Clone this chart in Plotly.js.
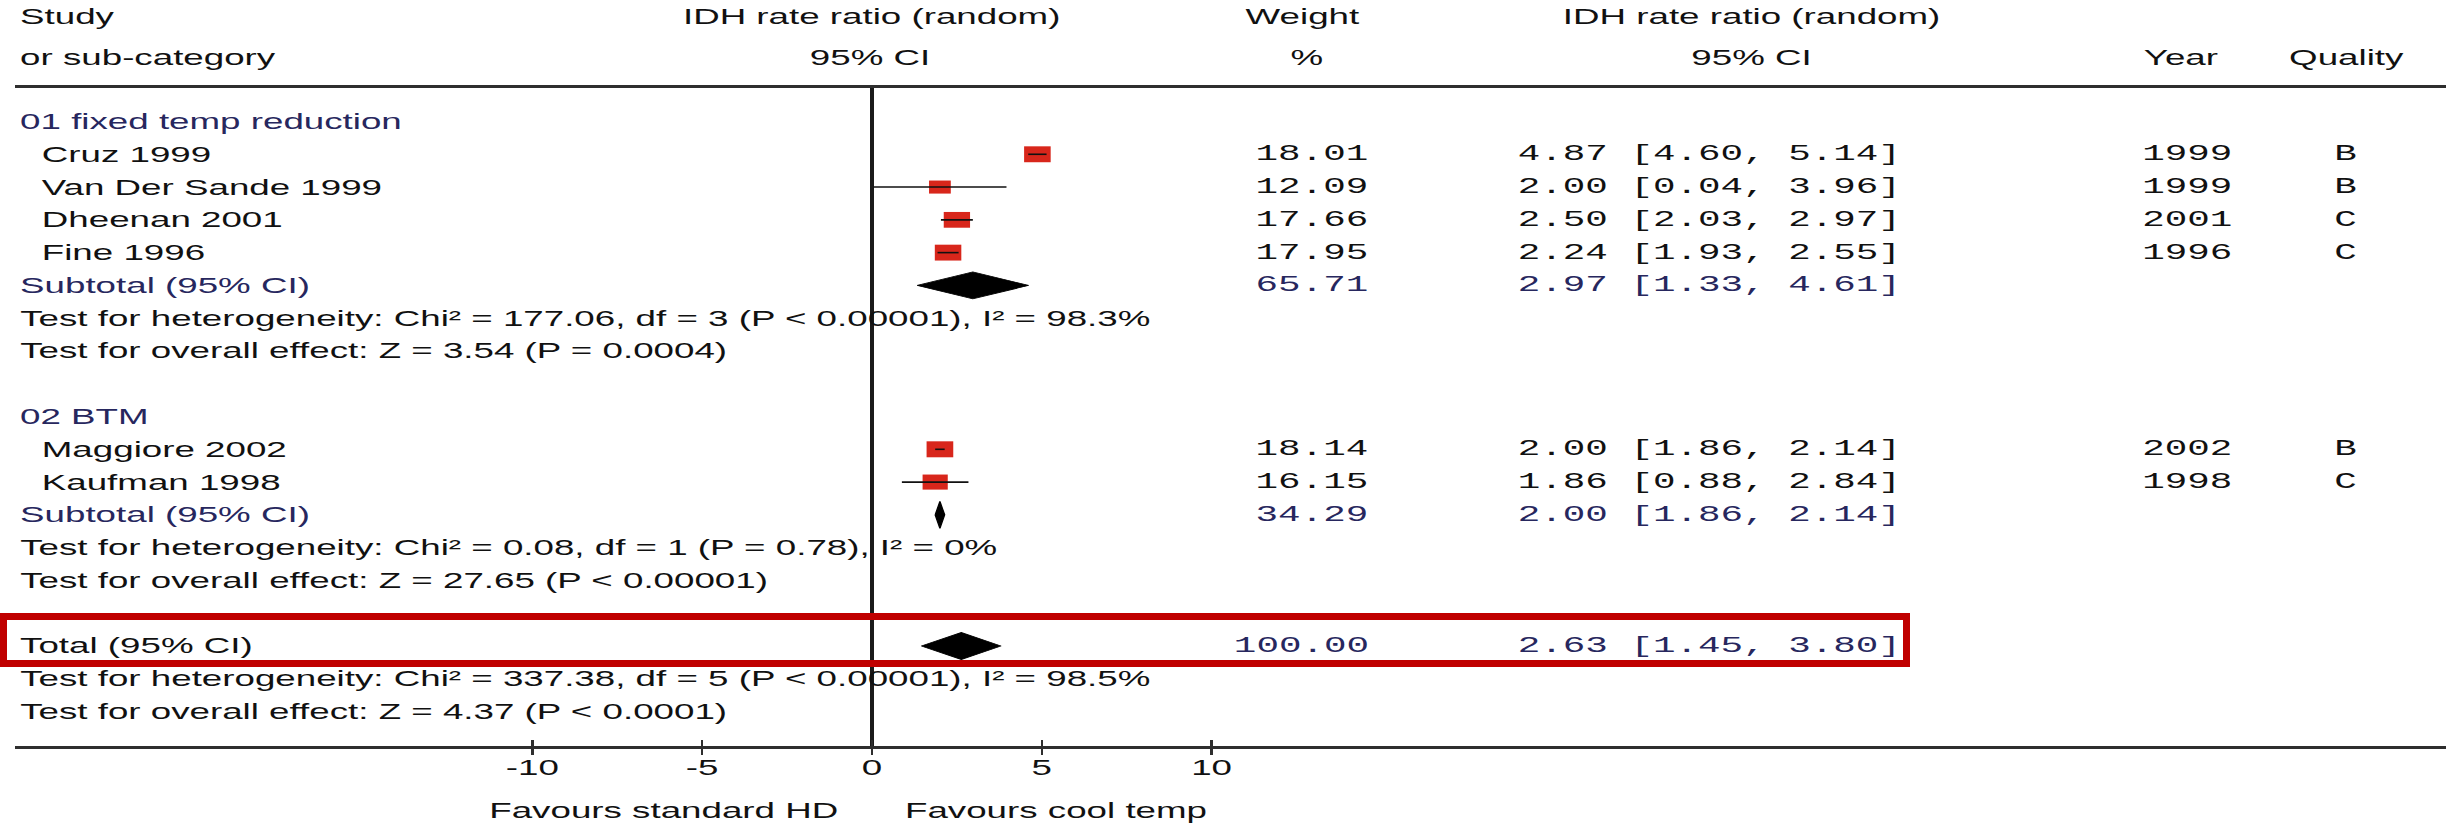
<!DOCTYPE html>
<html>
<head>
<meta charset="utf-8">
<script src="https://cdn.plot.ly/plotly-3.0.1.min.js"></script>
<style>
  html, body { margin: 0; padding: 0; background: #ffffff; overflow: hidden; }
  #chart { width: 1465px; height: 823px; transform-origin: 0 0; }
</style>
</head>
<body>
<div id="chart"></div>
<script>
// ---------------- DATA ----------------
const groupNames = ["01 fixed temp reduction", "02 BTM"];
const studies = ["Cruz 1999", "Van Der Sande 1999", "Dheenan 2001", "Fine 1996", "Maggiore 2002", "Kaufman 1998"];
const studyGroup = [0, 0, 0, 0, 1, 1];
const rateRatio = [4.87, 2.00, 2.50, 2.24, 2.00, 1.86];
const ciLower = [4.60, 0.04, 2.03, 1.93, 1.86, 0.88];
const ciUpper = [5.14, 3.96, 2.97, 2.55, 2.14, 2.84];
const weights = [18.01, 12.09, 17.66, 17.95, 18.14, 16.15];
const years = ["1999", "1999", "2001", "1996", "2002", "1998"];
const quality = ["B", "B", "C", "C", "B", "C"];

const subtotalRR = [2.97, 2.00];
const subtotalLower = [1.33, 1.86];
const subtotalUpper = [4.61, 2.14];
const subtotalWeight = [65.71, 34.29];
const heterogeneity = [
  "Test for heterogeneity: Chi\u00b2 = 177.06, df = 3 (P < 0.00001), I\u00b2 = 98.3%",
  "Test for heterogeneity: Chi\u00b2 = 0.08, df = 1 (P = 0.78), I\u00b2 = 0%"
];
const overallEffect = [
  "Test for overall effect: Z = 3.54 (P = 0.0004)",
  "Test for overall effect: Z = 27.65 (P < 0.00001)"
];

const totalRR = 2.63, totalLower = 1.45, totalUpper = 3.80, totalWeight = 100.00;
const totalHeterogeneity = "Test for heterogeneity: Chi\u00b2 = 337.38, df = 5 (P < 0.00001), I\u00b2 = 98.5%";
const totalOverall = "Test for overall effect: Z = 4.37 (P < 0.0001)";

const tickValues = [-10, -5, 0, 5, 10];
const tickLabels = ["-10", "-5", "0", "5", "10"];
const favoursLabels = ["Favours standard HD", "Favours cool temp"];

// ---------------- LAYOUT GEOMETRY ----------------
const W = 1465, H = 823;
const S = 2446 / W;                 // horizontal stretch of the original picture
document.getElementById('chart').style.transform = 'scaleX(' + S + ')';
const ML = 9, MR = 0, MT = 88, MB = 77;
const PW = W - ML - MR, PH = H - MT - MB;
const ROW0 = 121.5, ROWH = 32.78;   // full-picture pixel centre of row 0 and row pitch
const fx = v => (v / S - ML) / PW;  // picture x -> paper
const fy = v => (H - MB - v) / PH;  // picture y -> paper
const yTop = (MT - ROW0) / ROWH, yBot = (H - MB - ROW0) / ROWH;

const SANS = "Liberation Sans, Arial, sans-serif";
const MONO = "Liberation Mono, Courier New, monospace";
const BLACK = "#111111", NAVY = "#27275e", RED = "#d8261b";
const FS = 22, FSM = 22.5;

// ---------------- TABLE STRUCTURE ----------------
const rows = [];
groupNames.forEach((g, gi) => {
  rows.push({kind: "group", gi});
  studies.forEach((s, si) => { if (studyGroup[si] === gi) rows.push({kind: "study", si}); });
  rows.push({kind: "subtotal", gi});
  rows.push({kind: "het", gi});
  rows.push({kind: "overall", gi});
  rows.push({kind: "blank"});
});
rows.push({kind: "total"});
rows.push({kind: "totalHet"});
rows.push({kind: "totalOverall"});

const fmtCI = (r, l, u) => r.toFixed(2) + " [" + l.toFixed(2) + ", " + u.toFixed(2) + "]";

const ann = [];
function txt(text, x, y, anchor, font, color, yref) {
  ann.push({text, x: fx(x), xref: "paper", y, yref: yref || "y", xanchor: anchor, yanchor: "middle",
    showarrow: false, font: {family: font, size: font === MONO ? FSM : FS, color}});
}

const sqX = [], sqY = [], sqSize = [];
const ciX = [], ciY = [];
const dX = [], dY = [];
const DH = 0.41;
function diamond(r, l, u, row) {
  dX.push(l, r, u, r, l, null);
  dY.push(row, row - DH, row, row + DH, row, null);
}

const COL = {label: 16, indent: 38, weight: 1373, ci: 1514, year: 2187, quality: 2345};

rows.forEach((row, i) => {
  switch (row.kind) {
    case "group":
      txt(groupNames[row.gi], COL.label, i, "left", SANS, NAVY); break;
    case "study": {
      const k = row.si;
      txt(studies[k], COL.indent, i, "left", SANS, BLACK);
      txt(weights[k].toFixed(2), COL.weight, i, "right", MONO, BLACK);
      txt(fmtCI(rateRatio[k], ciLower[k], ciUpper[k]), COL.ci, i, "left", MONO, BLACK);
      txt(years[k], COL.year, i, "center", MONO, BLACK);
      txt(quality[k], COL.quality, i, "center", MONO, BLACK);
      sqX.push(rateRatio[k]); sqY.push(i); sqSize.push(3.75 * Math.sqrt(weights[k]));
      ciX.push(ciLower[k], ciUpper[k], null); ciY.push(i, i, null);
      break;
    }
    case "subtotal": {
      const g = row.gi;
      txt("Subtotal (95% CI)", COL.label, i, "left", SANS, NAVY);
      txt(subtotalWeight[g].toFixed(2), COL.weight, i, "right", MONO, NAVY);
      txt(fmtCI(subtotalRR[g], subtotalLower[g], subtotalUpper[g]), COL.ci, i, "left", MONO, NAVY);
      diamond(subtotalRR[g], subtotalLower[g], subtotalUpper[g], i);
      break;
    }
    case "het": txt(heterogeneity[row.gi], COL.label, i, "left", SANS, BLACK); break;
    case "overall": txt(overallEffect[row.gi], COL.label, i, "left", SANS, BLACK); break;
    case "total":
      txt("Total (95% CI)", COL.label, i, "left", SANS, BLACK);
      txt(totalWeight.toFixed(2), COL.weight, i, "right", MONO, NAVY);
      txt(fmtCI(totalRR, totalLower, totalUpper), COL.ci, i, "left", MONO, NAVY);
      diamond(totalRR, totalLower, totalUpper, i);
      break;
    case "totalHet": txt(totalHeterogeneity, COL.label, i, "left", SANS, BLACK); break;
    case "totalOverall": txt(totalOverall, COL.label, i, "left", SANS, BLACK); break;
  }
});

// header
const h1 = fy(16), h2 = fy(57);
txt("Study", COL.label, h1, "left", SANS, BLACK, "paper");
txt("or sub-category", COL.label, h2, "left", SANS, BLACK, "paper");
txt("IDH rate ratio (random)", 872, h1, "center", SANS, BLACK, "paper");
txt("95% CI", 870, h2, "center", SANS, BLACK, "paper");
txt("Weight", 1303, h1, "center", SANS, BLACK, "paper");
txt("%", 1308, h2, "center", SANS, BLACK, "paper");
txt("IDH rate ratio (random)", 1752, h1, "center", SANS, BLACK, "paper");
txt("95% CI", 1751, h2, "center", SANS, BLACK, "paper");
txt("Year", 2180, h2, "center", SANS, BLACK, "paper");
txt("Quality", 2346, h2, "center", SANS, BLACK, "paper");
// favours
txt(favoursLabels[0], 842, fy(810), "right", SANS, BLACK, "paper");
txt(favoursLabels[1], 902, fy(810), "left", SANS, BLACK, "paper");

// red highlight box (four bars so all sides have equal thickness in the picture)
const BOXC = "#c00000", T = 7;
const bx0 = 0, bx1 = 1910, by0 = 613, by1 = 667;
const bar = (x0, x1, y0, y1) => ({type: "rect", xref: "paper", yref: "paper",
  x0: fx(x0), x1: fx(x1), y0: fy(y1), y1: fy(y0), fillcolor: BOXC, line: {width: 0}, layer: "above"});
const shapes = [
  bar(bx0, bx1, by0, by0 + T),
  bar(bx0, bx1, by1 - T, by1),
  bar(bx0, bx0 + T, by0, by1),
  bar(bx1 - T, bx1, by0, by1)
];

// ---------------- TRACES ----------------
const x0px = 872 / S - ML, pxPerUnit = 33.96 / S;
const xRange = [-x0px / pxPerUnit, (PW - x0px) / pxPerUnit];

const traces = [
  {type: "scatter", mode: "markers", x: sqX, y: sqY, xaxis: "x", yaxis: "y", hoverinfo: "skip",
   opacity: 1, marker: {symbol: "square", size: sqSize, color: RED, opacity: 1, line: {width: 0}}, cliponaxis: false},
  {type: "scatter", mode: "lines", x: ciX, y: ciY, xaxis: "x", yaxis: "y", hoverinfo: "skip",
   line: {color: "#111111", width: 1.6}, connectgaps: false},
  {type: "scatter", mode: "lines", x: dX, y: dY, xaxis: "x2", yaxis: "y", hoverinfo: "skip",
   fill: "toself", fillcolor: "#000000", line: {color: "#000000", width: 0.8}}
];

const layout = {
  width: W, height: H,
  margin: {l: ML, r: MR, t: MT, b: MB, pad: 0},
  paper_bgcolor: "#ffffff", plot_bgcolor: "#ffffff",
  showlegend: false,
  font: {family: SANS, size: FS, color: BLACK},
  xaxis: {
    range: xRange, fixedrange: true, showgrid: false,
    showline: true, mirror: true, linecolor: "#2e2e2e", linewidth: 3,
    zeroline: true, zerolinecolor: "#1a1a1a", zerolinewidth: 2.4,
    ticks: "outside", ticklen: 6, tickwidth: 1.5, tickcolor: "#2e2e2e",
    ticklabelstandoff: -6,
    tickmode: "array", tickvals: tickValues, ticktext: tickLabels,
    tickfont: {family: SANS, size: FS, color: BLACK}
  },
  xaxis2: {
    matches: "x", overlaying: "x", anchor: "y", side: "bottom",
    range: xRange, fixedrange: true, showgrid: false, showline: false, zeroline: false,
    ticks: "inside", ticklen: 6, tickwidth: 1.5, tickcolor: "#2e2e2e",
    tickmode: "array", tickvals: tickValues, showticklabels: false
  },
  yaxis: {range: [yBot, yTop], visible: false, fixedrange: true, showgrid: false, zeroline: false},
  annotations: ann,
  shapes: shapes
};

Plotly.newPlot("chart", traces, layout, {displayModeBar: false, staticPlot: true});
</script>
</body>
</html>
